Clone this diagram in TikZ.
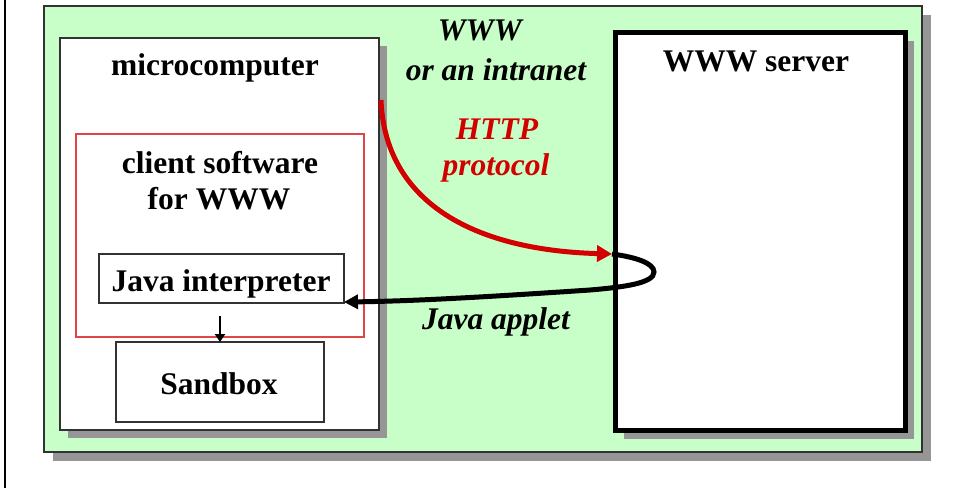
\documentclass[tikz,border=0pt]{standalone}
\usepackage{fontspec}
\setmainfont{Liberation Serif}
\usetikzlibrary{shadows,arrows.meta}
\definecolor{bggreen}{RGB}{200,255,200}
\definecolor{shgray}{RGB}{150,150,150}
\definecolor{arrred}{RGB}{210,0,0}
\definecolor{boxred}{RGB}{225,70,70}
\definecolor{edgegray}{RGB}{50,50,50}
\begin{document}
\begin{tikzpicture}[x=1pt,y=-1pt,
  box/.style={draw=edgegray, line width=1.6pt, fill=white, inner sep=0pt, outer sep=0pt},
  shad/.style={drop shadow={shadow xshift=#1,shadow yshift=-#1,fill=shgray,opacity=1}},
  lbl/.style={font=\fontsize{31.5}{36}\selectfont\bfseries, inner sep=0pt, anchor=base},
  ilbl/.style={font=\fontsize{31.5}{36}\selectfont\bfseries\itshape, inner sep=0pt, anchor=base},
  conn/.style={line width=5pt},
]
\useasboundingbox (0,0) rectangle (953,488);
% left border line
\draw[line width=2pt] (5,0) -- (5,488);
% background
\node[box, fill=bggreen, shad=9pt, minimum width=878pt, minimum height=446pt] (bg) at (483,229) {};
% microcomputer
\node[box, shad=8pt, minimum width=319pt, minimum height=392pt] (micro) at (219.5,234) {};
% client software (red frame)
\node[draw=boxred, line width=1.6pt, inner sep=0pt, minimum width=288pt, minimum height=203pt] (client) at (220,235.5) {};
% Java interpreter
\node[box, minimum width=245pt, minimum height=49pt] (java) at (221.5,278.5) {};
% Sandbox
\node[box, minimum width=208pt, minimum height=80pt] (sandbox) at (220,382) {};
% WWW server
\node[box, draw=black, line width=5pt, shad=9pt, minimum width=290pt, minimum height=398pt] (server) at (760,231) {};

% labels
\node[lbl] (tmicro) at (215,75) {microcomputer};
\node[lbl] (tclient1) at (220,173) {client software};
\node[lbl] (tclient2) at (219,209) {for WWW};
\node[lbl] (tjava) at (221,291) {Java interpreter};
\node[lbl] (tsand) at (219,394) {Sandbox};
\node[lbl] (tserver) at (756,71) {WWW server};
\node[ilbl] (twww) at (480,40) {WWW};
\node[ilbl] (tintra) at (496,80) {or an intranet};
\node[ilbl, text=arrred] (thttp) at (497,139) {HTTP};
\node[ilbl, text=arrred] (tproto) at (496,175) {protocol};
\node[ilbl] (tapplet) at (496,329) {Java applet};

% connectors
\coordinate (hstart) at (381,100);
\coordinate (srvin) at (612,254);
\coordinate (loopend) at (654,272);
\coordinate (loopmid) at (590,290);
\coordinate (javain) at (344,302);
\coordinate (sbstart) at (220,316);

\draw[conn, draw=arrred, -{Triangle[length=15pt,width=16pt,fill=arrred]}, color=arrred]
  (hstart) .. controls (385,200) and (470,250) .. (srvin);
\draw[conn, -{Triangle[length=14pt,width=14pt]}]
  (srvin) .. controls (635,257) and (654,263) .. (loopend)
  .. controls (654,283) and (625,287) .. (loopmid)
  .. controls (500,296) and (420,301) .. (javain);
\draw[line width=2.5pt, -{Triangle[length=8pt,width=10pt]}] (sbstart) -- (sandbox.north);
\end{tikzpicture}
\end{document}
